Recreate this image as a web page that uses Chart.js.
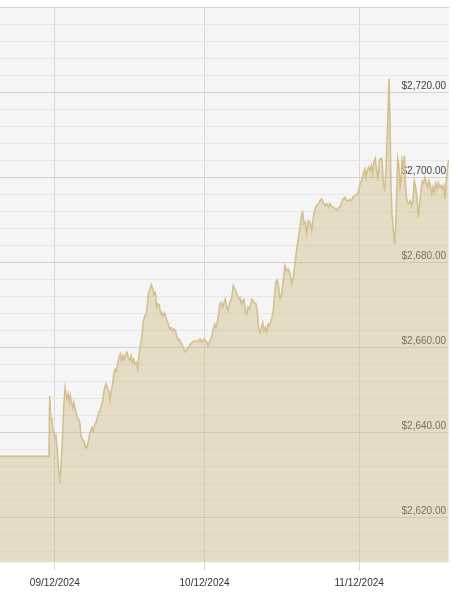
<!DOCTYPE html>
<html>
<head>
<meta charset="utf-8">
<script src="https://cdn.jsdelivr.net/npm/chart.js@4"></script>
<style>
  body { margin: 0; background: #fff; }
</style>
</head>
<body>
<canvas id="priceChart" width="453" height="600"></canvas>
<script>
// days since 09/01/2024
const dayOffsets = [
    0, 9.82, 9.96, 10.16, 10.42, 10.56, 10.82, 11.02, 11.22, 11.49, 11.83, 11.97, 12.17, 12.49, 12.77,
    13.03, 13.23, 13.43, 13.69, 13.89, 14.09, 14.37, 14.57, 14.77, 15.03, 15.23, 15.49, 15.77, 16.04,
    16.24, 16.50, 16.84, 17.10, 17.38, 17.64, 17.90, 18.18, 18.44, 18.70, 18.98, 19.24, 19.50, 19.78,
    20.04, 20.30, 20.59, 20.85, 21.11, 21.31, 21.59, 21.79, 22.05, 22.25, 22.51, 22.79, 23.05, 23.31,
    23.59, 23.85, 24.11, 24.39, 24.65, 24.91, 25.20, 25.46, 25.72, 26.00, 26.26, 26.52, 26.80, 27.06,
    27.32, 27.60, 27.86, 28.10, 28.40, 28.72, 29.06, 29.40, 29.73, 30.07, 30.33, 30.61, 30.87, 31.13,
    31.41, 31.67, 31.93, 32.21, 32.47, 32.73, 33.01, 33.27, 33.53, 33.81, 34.07, 34.34, 34.62, 34.88,
    35.14, 35.42, 35.68, 35.94, 36.22, 36.48, 36.74, 37.08, 37.42, 37.68, 37.94, 38.22, 38.48, 38.75,
    39.09, 39.43, 39.75, 40.09, 40.35, 40.63, 40.89, 41.15, 41.43, 41.69, 41.95, 42.23, 42.49, 42.75,
    43.03, 43.29, 43.55, 43.84, 44.10, 44.36, 44.64, 44.90, 45.16, 45.44, 45.70, 45.96, 46.24, 46.50,
    46.76, 47.04, 47.30, 47.56, 47.85, 48.11, 48.37, 48.65, 48.91, 49.17, 49.45, 49.71, 49.97, 50.25,
    50.51, 50.77, 51.05, 51.31, 51.57, 51.85, 52.11, 52.37, 52.66, 52.92, 53.18, 53.46, 53.72, 53.98,
    54.26, 54.52, 54.78, 55.06, 55.32, 55.58, 55.86, 56.12, 56.46, 56.78, 57.12, 57.46, 57.79, 58.13,
    58.47, 58.79, 59.13, 59.47, 59.79, 60.13, 60.47, 60.67, 60.93, 61.20, 61.48, 61.80, 62.14, 62.48,
    62.80, 63.14, 63.48, 63.80, 64.14, 64.48, 64.80, 65.14, 65.48, 65.81, 66.15, 66.49, 66.81, 67.15,
    67.49, 67.81, 68.15, 68.49, 68.81, 69.15, 69.49, 69.81, 70.15, 70.49, 70.82, 71.16, 71.50, 71.82,
    72.16, 72.50, 72.82, 73.16, 73.36, 73.62, 73.90, 74.16, 74.42, 74.70, 74.96, 75.23, 75.51, 75.77,
    76.03, 76.31, 76.57, 76.83, 77.11, 77.37, 77.71, 77.97, 78.17, 78.37, 78.57, 78.77, 78.97, 79.11,
    79.31, 79.51, 79.71, 79.91, 80.18, 80.38, 80.58, 80.84, 81.04, 81.24, 81.44, 81.72, 81.98, 82.24,
    82.52, 82.78, 83.04, 83.32, 83.58, 83.85, 84.13, 84.39, 84.65, 84.93, 85.19, 85.45, 85.73, 85.99,
    86.25, 86.53, 86.79, 87.05, 87.33, 87.59, 87.85, 88.13, 88.39, 88.65, 88.93, 89.19, 89.45, 89.73,
    89.93
];

const prices = [
    2634.3, 2634.3, 2648.5, 2643.4, 2643.1, 2640.3, 2639.8, 2638.6, 2639.1, 2635.6, 2630.1, 2629.3, 2630.4, 2637.9, 2645.8,
    2650.4, 2649.0, 2647.8, 2649.0, 2647.0, 2648.5, 2646.6, 2645.8, 2647.0, 2645.5, 2644.6, 2643.4, 2643.0, 2641.9,
    2639.1, 2638.3, 2637.9, 2636.5, 2636.3, 2637.5, 2639.1, 2640.3, 2641.1, 2640.3, 2641.9, 2642.2, 2643.4, 2644.6,
    2645.0, 2646.2, 2647.4, 2649.7, 2650.9, 2651.4, 2650.1, 2649.7, 2647.4, 2649.3, 2650.9, 2653.3, 2654.8, 2654.4,
    2656.0, 2657.6, 2658.4, 2656.8, 2658.0, 2657.2, 2658.4, 2658.8, 2657.6, 2656.8, 2658.0, 2656.4, 2657.2, 2656.0,
    2656.4, 2654.8, 2658.0, 2660.1, 2662.2, 2666.2, 2667.4, 2668.2, 2672.5, 2673.7, 2674.7, 2673.7, 2672.5, 2672.9,
    2669.4, 2670.2, 2669.8, 2667.8, 2668.2, 2667.4, 2668.0, 2667.0, 2666.2, 2665.0, 2664.3, 2664.6, 2663.9, 2664.3,
    2663.9, 2662.7, 2661.7, 2661.9, 2661.1, 2660.7, 2659.9, 2658.9, 2659.3, 2659.9, 2660.3, 2660.7, 2661.1, 2661.3,
    2661.5, 2661.3, 2661.5, 2661.9, 2661.3, 2661.5, 2661.9, 2661.5, 2661.3, 2660.3, 2661.1, 2661.9, 2662.7, 2664.3,
    2665.4, 2664.6, 2665.8, 2667.8, 2670.2, 2670.5, 2669.4, 2670.5, 2671.3, 2669.4, 2668.6, 2670.2, 2670.9, 2672.1,
    2674.5, 2673.7, 2673.3, 2672.1, 2671.3, 2671.7, 2670.2, 2670.9, 2671.3, 2668.6, 2667.8, 2669.4, 2669.0, 2670.2,
    2671.3, 2670.9, 2670.5, 2670.2, 2668.6, 2664.3, 2663.5, 2664.6, 2665.8, 2663.9, 2664.6, 2663.5, 2665.4, 2665.0,
    2666.2, 2667.0, 2668.6, 2672.5, 2675.3, 2675.8, 2674.1, 2671.4, 2672.5, 2675.7, 2679.2, 2678.0, 2678.4, 2677.2,
    2674.9, 2676.4, 2679.6, 2683.1, 2685.5, 2688.2, 2691.4, 2691.8, 2689.0, 2689.4, 2686.7, 2689.8, 2689.4, 2687.5,
    2690.6, 2692.6, 2693.3, 2693.8, 2694.5, 2694.9, 2694.1, 2693.3, 2693.8, 2693.0, 2693.9, 2693.1, 2693.0, 2692.6,
    2692.3, 2692.8, 2693.0, 2694.1, 2694.9, 2695.3, 2694.5, 2694.5, 2694.9, 2694.5, 2695.5, 2695.7, 2695.9, 2696.5,
    2698.5, 2699.2, 2700.8, 2702.0, 2700.0, 2701.6, 2702.4, 2701.6, 2702.8, 2700.8, 2703.6, 2704.4, 2701.6, 2699.2,
    2704.0, 2704.4, 2704.4, 2698.5, 2697.3, 2701.6, 2712.6, 2723.2, 2713.4, 2697.7, 2691.4, 2689.0, 2685.9, 2684.3,
    2688.2, 2696.1, 2704.4, 2703.2, 2697.7, 2699.2, 2704.0, 2702.4, 2705.1, 2699.2, 2695.3, 2694.1, 2693.8, 2694.5,
    2693.3, 2694.5, 2699.2, 2697.7, 2695.3, 2690.6, 2693.8, 2696.9, 2699.2, 2698.5, 2700.0, 2698.8, 2697.7, 2699.2,
    2698.1, 2696.1, 2697.7, 2696.5, 2698.5, 2697.3, 2698.8, 2697.7, 2698.1, 2697.3, 2698.1, 2694.9, 2699.2, 2702.8,
    2704.0
];

const tickDays = [11, 41, 72];
const tickLabels = ['09/12/2024', '10/12/2024', '11/12/2024'];

const yMin = 2609.3;
const yMax = 2740;

const labelFont = { family: 'Liberation Sans', size: 10 };

// light grey plot background
const plotBackground = {
    id: 'plotBackground',
    beforeDraw(chart) {
        const { ctx, chartArea } = chart;
        ctx.save();
        ctx.fillStyle = '#f5f5f5';
        ctx.fillRect(chartArea.left, chartArea.top, chartArea.width, chartArea.height);
        ctx.restore();
    }
};

const ctx = document.getElementById('priceChart');
new Chart(ctx, {
    type: 'line',
    data: {
        datasets: [{
            data: dayOffsets.map((d, i) => ({ x: d, y: prices[i] })),
            borderColor: '#d3c090',
            backgroundColor: 'rgba(205, 183, 128, 0.4)',
            borderWidth: 1.6,
            fill: 'start',
            tension: 0,
            pointRadius: 0
        }]
    },
    options: {
        responsive: false,
        animation: false,
        layout: { padding: { top: 7.5, right: 4, left: 0, bottom: 3.5 } },
        plugins: {
            legend: { display: false },
            tooltip: { enabled: false }
        },
        scales: {
            x: {
                type: 'linear',
                min: 0,
                max: 90,
                afterBuildTicks: axis => {
                    axis.ticks = tickDays.map(v => ({ value: v }));
                },
                grid: {
                    color: '#d9d9d9',
                    tickLength: 8
                },
                border: { display: false },
                ticks: {
                    maxRotation: 0,
                    padding: 7,
                    color: '#333',
                    font: labelFont,
                    callback: (value, index) => tickLabels[index]
                }
            },
            y: {
                position: 'right',
                min: yMin,
                max: yMax,
                afterBuildTicks: axis => {
                    const ticks = [];
                    for (let v = 2612; v <= yMax; v += 4) ticks.push({ value: v });
                    axis.ticks = ticks;
                },
                afterFit: axis => {
                    axis.width = 0;
                    axis.paddingTop = 0;
                    axis.paddingBottom = 0;
                },
                grid: {
                    drawTicks: false,
                    color: c => (c.tick && c.tick.value % 20 === 0) ? '#d3d3d3' : '#e8e8e8'
                },
                border: { display: false },
                ticks: {
                    mirror: true,
                    padding: -3,
                    labelOffset: -6,
                    color: '#444',
                    font: labelFont,
                    callback: value => (value % 20 === 0 && value < yMax)
                        ? '$' + value.toLocaleString('en-US', { minimumFractionDigits: 2 })
                        : ''
                }
            }
        }
    },
    plugins: [plotBackground]
});
</script>
</body>
</html>
